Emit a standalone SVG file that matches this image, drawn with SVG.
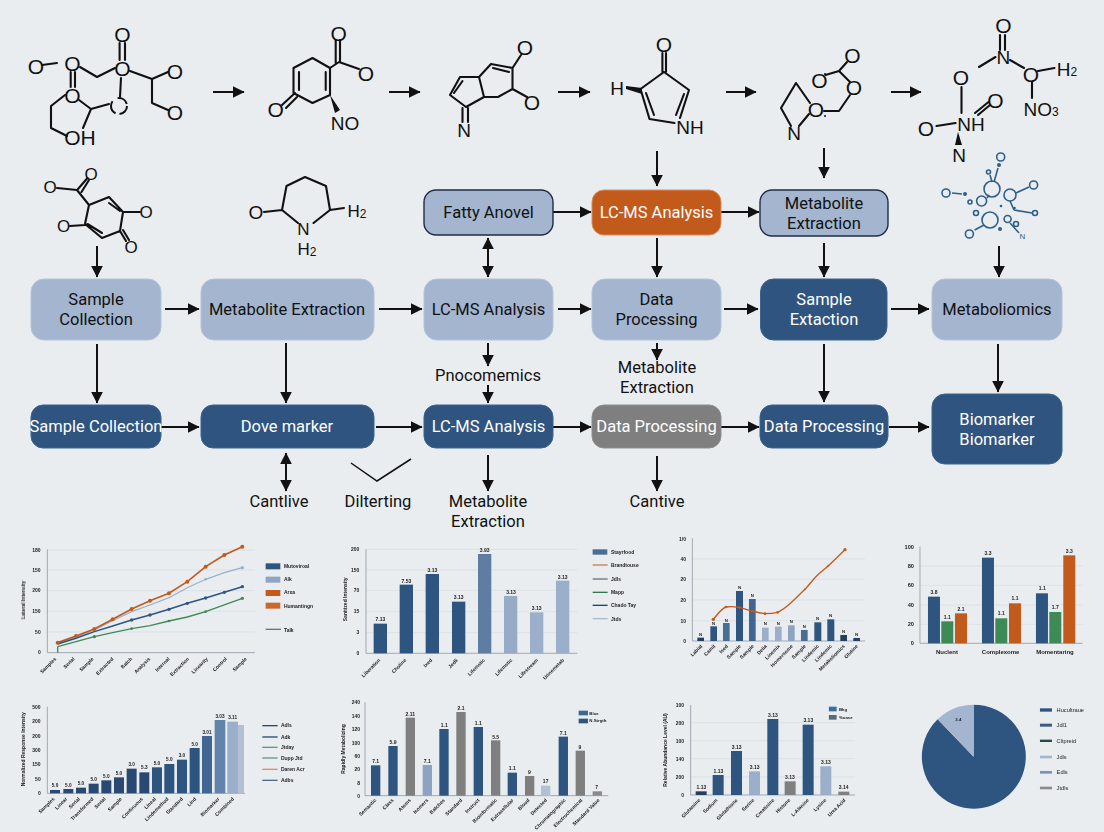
<svg xmlns="http://www.w3.org/2000/svg" width="1104" height="832" viewBox="0 0 1104 832">
<style>
.bond{fill:none;stroke:#111;stroke-width:2.1;stroke-linecap:round;stroke-linejoin:round}
.wedge{fill:#111}
.a{font-family:"Liberation Sans",Arial,sans-serif;font-size:21px;fill:#111;text-anchor:middle;dominant-baseline:central}
.a2{font-family:"Liberation Sans",Arial,sans-serif;font-size:19px;fill:#111;text-anchor:middle;dominant-baseline:central}
.s{font-size:12px}
.net{fill:none;stroke:#2f5f8a;stroke-width:1.6}
.netf{fill:#2f5f8a}
.light{fill:#a3b5cf;stroke:#b4c4da;stroke-width:1}
.dark{fill:#2f5480;stroke:#3d6390;stroke-width:1}
.orange{fill:#c25a1c;stroke:#dd8a5a;stroke-width:1}
.gray{fill:#7f7f7f;stroke:#8d8d8d;stroke-width:1}
.ol{stroke:#1f2d42;stroke-width:1.4}
.l{font-family:Roboto,"Noto Sans",sans-serif;font-size:16.5px;text-anchor:middle;fill:#111}
.w{fill:#fff}
.conn{fill:none;stroke:#111;stroke-width:2}
.plain{fill:none;stroke:#111;stroke-width:1.5}
.ax{fill:none;stroke:#8f98a3;stroke-width:2.4}
.gr{fill:none;stroke:#d5dbe0;stroke-width:2}
.t{font-family:"Liberation Sans",Arial,sans-serif;font-size:15px;fill:#222;font-weight:bold}
.e{text-anchor:end}
.m{text-anchor:middle}
.bl{fill:#2f5480}.bm{fill:#4a6e96}.bd{fill:#263e62}.bp{fill:#9cafca}.bg{fill:#7f7f7f}.bo{fill:#c25a1c}.bn{fill:#3e8a57}
</style>
<defs>
<marker id="h" viewBox="0 0 10 10" refX="9.5" refY="5" markerUnits="userSpaceOnUse" markerWidth="12" markerHeight="12" orient="auto-start-reverse"><path d="M0,0 L10,5 L0,10 z" fill="#111"/></marker>
<filter id="soft" x="-5%" y="-5%" width="110%" height="110%"><feGaussianBlur stdDeviation="1.4"/></filter>
</defs>
<rect width="1104" height="832" fill="#e9edf0"/>

<g id="mol-1">
<path class="bond" d="M42,65 L57,63 M80,67 L97,77 L115,68 M119.6,43 V60 M125,43 V60 M130,71 L152,79 L168,72 M152,79 V103 L168,110 M70.7,72 V87 M75,72 V87 M79,100 L91,109 L109,104 M121,78 L120,97 M91,109 L83,128 M65,95 L51,106 V128 L67,136"/>
<circle cx="119" cy="106" r="8" fill="none" stroke="#111" stroke-width="2" stroke-dasharray="12 4 14 6"/>
<text class="a" x="36" y="66">O</text><text class="a" x="72.5" y="63">O</text><text class="a" x="122.5" y="34">O</text><text class="a" x="122.5" y="68">O</text><text class="a" x="175" y="71">O</text><text class="a" x="175" y="112">O</text><text class="a" x="72.5" y="95">O</text><text class="a" x="80" y="137">OH</text>
</g>
<g id="mol-2">
<path class="bond" d="M312.5,58 L330,68 V95 L312.5,103 L293.5,93 V68 Z M299,72 V90 M325.7,72 V90 M330,68 L339,62 L359,69 M335.7,40 V63 M340,40 V62 M282,105 L295,93 M286,108 L297,97"/>
<path class="wedge" d="M330,95 L335,113 L340,110 Z"/>
<text class="a" x="338.6" y="33">O</text><text class="a" x="366" y="73">O</text><text class="a" x="275.7" y="109">O</text><text class="a2" x="345" y="123">NO</text>
</g>
<g id="mol-3">
<path class="bond" d="M450,95 L460,77 H479 L484,97 L466,107 Z M454,93 L462.5,81 M479,77 L491,64 L512.5,68 V89 L498,97 L484,97 M493,68 L509,72 M512.5,68 L521,55 M512.5,89 L527,97 M462.5,108 V122 M468,108 V122"/>
<text class="a" x="525" y="47">O</text><text class="a" x="532" y="102">O</text><text class="a2" x="464" y="130">N</text>
</g>
<g id="mol-4">
<path class="bond" d="M662.4,53 V72 M666,53 V72 M664,72 L689,90 L680,118 M664,72 L640.5,89 L649.5,119 L674.5,123 M646,93 L654,115 M684,94 L676,115"/>
<path class="wedge" d="M642,94 L642,88 L626,86 L626,89 Z"/>
<text class="a" x="664" y="44">O</text><text class="a2" x="617" y="88">H</text><text class="a2" x="690" y="127">NH</text>
</g>
<g id="mol-5">
<path class="bond" d="M825.5,75 L839,71 L847,62 M839,71 L850,82 M850,95 L839,111 H824 M796,83 L781,108 L791,126 M796,83 L810,103 M809,114 L799,126"/>
<circle cx="825" cy="74" r="1" fill="#111"/><circle cx="825" cy="116" r="1" fill="#111"/>
<text class="a" x="852.5" y="55">O</text><text class="a" x="819.5" y="80">O</text><text class="a" x="854" y="87">O</text><text class="a" x="816" y="109">O</text><text class="a2" x="794" y="133">N</text>
</g>
<g id="mol-6">
<path class="bond" d="M1000,35 V50 M1005,35 V50 M979,67 L995.5,57 M1010,60 L1024,68 M1038,71 L1054.5,68 M1032,82 V98 M961.5,87 V113 M936.5,126 L955.6,123 M975,113 L988.5,102 M978,115 L990,105"/>
<path class="wedge" d="M958,132 L955,145 H962 Z"/>
<text class="a" x="1003.4" y="25">O</text><text class="a2" x="1003.4" y="57">N</text><text class="a" x="1031" y="74">O</text><text class="a2" x="1067" y="69">H<tspan class="s" dy="3">2</tspan></text><text class="a2" x="1041" y="109">NO<tspan class="s" dy="3">3</tspan></text><text class="a" x="961" y="77">O</text><text class="a2" x="971" y="124">NH</text><text class="a" x="926" y="128">O</text><text class="a" x="995.5" y="100">O</text><text class="a2" x="959" y="155">N</text>
</g>
<g id="mol-7">
<path class="bond" d="M57,188 L77,190 L89,205 L109,197 L123,212 L120,231 L102,238 L85,224 L89,205 M78,189 L87.5,178 M81.5,192 L89,180 M109,203 L120,211 M87.5,224 L102,233 M123,212 H140 M70,226 L85,225 M120,231 L126,241 M123,230 L129,240"/>
<text class="a" x="91" y="174" style="font-size:17px">O</text><text class="a" x="50" y="187" style="font-size:17px">O</text><text class="a" x="146" y="212" style="font-size:17px">O</text><text class="a" x="63.5" y="226" style="font-size:17px">O</text><text class="a" x="131" y="247" style="font-size:17px">O</text>
</g>
<g id="mol-8">
<path class="bond" d="M264,212 L282,210 L286.5,186 L305,177 L326,186 L330,210 L344,208 M282,210 L298,223 M330,210 L313.5,223"/>
<text class="a" x="256" y="212" style="font-size:19px">O</text><text class="a2" x="303.5" y="229" style="font-size:17px">N</text><text class="a2" x="307" y="249" style="font-size:17px">H<tspan class="s" dy="3">2</tspan></text><text class="a2" x="357" y="211" style="font-size:17px">H<tspan class="s" dy="3">2</tspan></text>
</g>
<g id="network">
<path class="net" d="M994,182 L998,168 M990,175 L992,182 M1016,193 L1029,187 M952,193 L962,194 M1014,210 L1032,213 M974.6,230 L984,225 M1010,223 L1019,233 M987,198 L989,195 M1010,201 L1014,210"/>
<circle class="net" cx="992" cy="189" r="8"/><circle class="net" cx="1010" cy="195" r="6"/><circle class="net" cx="990" cy="220" r="8"/><circle class="net" cx="981.6" cy="201" r="5"/><circle class="net" cx="1007.6" cy="219" r="3.5"/><circle class="net" cx="1000.7" cy="157" r="4"/><circle class="netf" cx="999" cy="165" r="2"/><circle class="net" cx="988.5" cy="172" r="2"/><circle class="net" cx="1033.6" cy="185" r="4"/><circle class="net" cx="946" cy="193" r="4"/><circle class="netf" cx="965" cy="194" r="2"/><circle class="net" cx="970" cy="202" r="2"/><circle class="net" cx="1035" cy="213" r="2.5"/><circle class="net" cx="969.4" cy="234" r="4"/><circle class="net" cx="1016" cy="224" r="2.5"/><circle class="netf" cx="1000" cy="229" r="2"/><circle class="net" cx="976" cy="213" r="2.5"/><circle class="netf" cx="1001" cy="206" r="1.3"/><circle class="netf" cx="1014.5" cy="208" r="1.3"/>
<text x="1022.5" y="239" font-family="Liberation Sans, sans-serif" font-size="8" fill="#2f5f8a" text-anchor="middle">N</text>
</g>

<g id="connectors">
<g class="conn">
<path marker-end="url(#h)" d="M213,92 H244"/><path marker-end="url(#h)" d="M389,92 H420"/><path marker-end="url(#h)" d="M558,92 H590"/><path marker-end="url(#h)" d="M726,92 H756"/><path marker-end="url(#h)" d="M891,92 H921"/>
<path marker-end="url(#h)" d="M657,151 V186"/><path marker-end="url(#h)" d="M824,148 V178"/>
<path marker-end="url(#h)" d="M553,212 H591"/><path marker-end="url(#h)" d="M721,212 H759"/>
<path marker-end="url(#h)" d="M97,246 V277"/><path marker-start="url(#h)" marker-end="url(#h)" d="M488,238 V277"/><path marker-end="url(#h)" d="M657,238 V277"/><path marker-end="url(#h)" d="M824,243 V277"/><path marker-end="url(#h)" d="M999,246 V277"/>
<path marker-end="url(#h)" d="M165,309 H199"/><path marker-end="url(#h)" d="M379,309 H422"/><path marker-end="url(#h)" d="M558,309 H591"/><path marker-end="url(#h)" d="M724,309 H758"/><path marker-end="url(#h)" d="M891,309 H929"/>
<path marker-end="url(#h)" d="M97,344 V403"/><path marker-end="url(#h)" d="M286,343 V403"/><path marker-end="url(#h)" d="M488,343 V366"/><path marker-end="url(#h)" d="M488,385 V403"/><path marker-end="url(#h)" d="M657,343 V360"/><path marker-end="url(#h)" d="M824,344 V402"/><path marker-end="url(#h)" d="M998,344 V392"/>
<path marker-end="url(#h)" d="M161,427 H199"/><path marker-end="url(#h)" d="M376,427 H422"/><path marker-end="url(#h)" d="M553,427 H591"/><path marker-end="url(#h)" d="M721,427 H759"/><path marker-end="url(#h)" d="M889,427 H929"/>
<path marker-start="url(#h)" marker-end="url(#h)" d="M286,453 V491"/><path marker-end="url(#h)" d="M488,455 V491"/><path marker-end="url(#h)" d="M657,456 V491"/>
</g>
<path class="plain" d="M351,463 L377,481 L411,459"/>
</g>

<g id="node-fatty"><rect class="light ol" x="424" y="190" width="129" height="45" rx="12"/><text class="l" x="488.5" y="218">Fatty Anovel</text></g>
<g id="node-lcms-orange"><rect class="orange" x="592" y="190" width="129" height="45" rx="12"/><text class="l w" x="656.5" y="218">LC-MS Analysis</text></g>
<g id="node-extract-top"><rect class="light ol" x="760" y="190" width="128" height="46" rx="12"/><text class="l" x="824" y="209">Metabolite</text><text class="l" x="824" y="228.5">Extraction</text></g>

<g id="node-sample-1"><rect class="light" x="31" y="279" width="130" height="61" rx="13"/><text class="l" x="96" y="305">Sample</text><text class="l" x="96" y="324.5">Collection</text></g>
<g id="node-extract-1"><rect class="light" x="201" y="279" width="173" height="61" rx="13"/><text class="l" x="287" y="315">Metabolite Extraction</text></g>
<g id="node-lcms-1"><rect class="light" x="424" y="279" width="129" height="61" rx="13"/><text class="l" x="488.5" y="315">LC-MS Analysis</text></g>
<g id="node-data-1"><rect class="light" x="592" y="279" width="129" height="61" rx="13"/><text class="l" x="656.5" y="305">Data</text><text class="l" x="656.5" y="324.5">Processing</text></g>
<g id="node-sample-extract"><rect class="dark" x="760.5" y="279" width="126.5" height="61" rx="13"/><text class="l w" x="824" y="305">Sample</text><text class="l w" x="824" y="324.5">Extaction</text></g>
<g id="node-metabolomics"><rect class="light" x="932" y="279" width="130" height="61" rx="13"/><text class="l" x="997" y="315">Metaboliomics</text></g>

<g id="node-sample-2"><rect class="dark" x="31" y="405" width="130" height="43" rx="12"/><text class="l w" x="96" y="432">Sample Collection</text></g>
<g id="node-dove"><rect class="dark" x="201" y="405" width="173" height="43" rx="12"/><text class="l w" x="287" y="432">Dove marker</text></g>
<g id="node-lcms-2"><rect class="dark" x="424" y="405" width="129" height="43" rx="12"/><text class="l w" x="488.5" y="432">LC-MS Analysis</text></g>
<g id="node-data-2"><rect class="gray" x="592" y="405" width="129" height="43" rx="12"/><text class="l w" x="656.5" y="432">Data Processing</text></g>
<g id="node-data-3"><rect class="dark" x="760" y="405" width="128" height="43" rx="12"/><text class="l w" x="824" y="432">Data Processing</text></g>
<g id="node-biomarker"><rect class="dark" x="932" y="394" width="130" height="70" rx="13"/><text class="l w" x="997" y="425">Biomarker</text><text class="l w" x="997" y="445">Biomarker</text></g>

<g id="labels">
<text class="l" x="488" y="381">Pnocomemics</text>
<text class="l" x="657" y="373">Metabolite</text><text class="l" x="657" y="392.5">Extraction</text>
<text class="l" x="279" y="507">Cantlive</text><text class="l" x="378" y="507">Dilterting</text>
<text class="l" x="488" y="507">Metabolite</text><text class="l" x="488" y="526.5">Extraction</text>
<text class="l" x="657" y="507">Cantive</text>
</g>

<g id="chart-1" transform="translate(0 530) scale(.3333)" filter="url(#soft)">
<path class="gr" d="M142,60 H765 M142,120 H765 M142,182 H765 M142,244 H765 M142,306 H765"/>
<path class="ax" d="M142,58 V368 H765"/>
<g class="t e"><text x="122" y="65">180</text><text x="122" y="125">150</text><text x="122" y="187">200</text><text x="122" y="249">150</text><text x="122" y="311">50</text><text x="122" y="372">0</text></g>
<polyline fill="none" stroke="#9cafca" stroke-width="3.5" points="173,340 228,322 283,300 338,272 395,245 450,225 507,203 562,173 617,148 673,128 727,113"/>
<polyline fill="none" stroke="#c25a1c" stroke-width="5" points="173,338 228,318 283,297 338,268 395,237 450,212 507,190 562,155 617,110 673,75 727,50"/>
<polyline fill="none" stroke="#2f5480" stroke-width="4.5" points="173,342 228,325 283,305 338,288 395,270 450,255 507,238 562,220 617,204 673,187 727,170"/>
<polyline fill="none" stroke="#3e8a57" stroke-width="4" points="173,350 228,335 283,320 338,308 395,296 450,287 507,273 562,261 617,245 673,225 727,205"/>
<path fill="none" stroke="#3e8a57" stroke-width="4" d="M173,350 V368"/>
<g fill="#c25a1c"><circle cx="173" cy="338" r="6"/><circle cx="228" cy="318" r="6"/><circle cx="283" cy="297" r="6"/><circle cx="338" cy="268" r="6"/><circle cx="395" cy="237" r="6"/><circle cx="450" cy="212" r="6"/><circle cx="507" cy="190" r="6"/><circle cx="562" cy="155" r="6"/><circle cx="617" cy="110" r="6"/><circle cx="673" cy="75" r="6"/><circle cx="727" cy="50" r="6"/></g>
<g fill="#9cafca"><circle cx="727" cy="113" r="5"/><circle cx="617" cy="148" r="4"/></g>
<g fill="#2f5480"><circle cx="395" cy="270" r="5"/><circle cx="450" cy="255" r="5"/><circle cx="507" cy="238" r="5"/><circle cx="562" cy="220" r="5"/><circle cx="617" cy="204" r="5"/><circle cx="673" cy="187" r="5"/><circle cx="727" cy="170" r="5"/></g>
<g fill="#3e8a57"><circle cx="283" cy="320" r="5"/><circle cx="395" cy="296" r="4"/><circle cx="507" cy="273" r="4"/><circle cx="617" cy="245" r="4"/><circle cx="727" cy="205" r="5"/></g>
<g class="t e">
<text transform="translate(170 388) rotate(-45)">Samples</text><text transform="translate(225 388) rotate(-45)">Serial</text><text transform="translate(282 388) rotate(-45)">Sample</text><text transform="translate(342 388) rotate(-45)">Extracted</text><text transform="translate(398 388) rotate(-45)">Batch</text><text transform="translate(452 388) rotate(-45)">Analysis</text><text transform="translate(510 388) rotate(-45)">Internal</text><text transform="translate(568 388) rotate(-45)">Extraction</text><text transform="translate(625 388) rotate(-45)">Linearity</text><text transform="translate(682 388) rotate(-45)">Control</text><text transform="translate(742 388) rotate(-45)">Sample</text>
</g>
<text class="t m" transform="translate(76 210) rotate(-90)">Lateral Intensity</text>
<rect x="797" y="100" width="44" height="18" fill="#2f5480"/><rect x="797" y="140" width="44" height="18" fill="#8ea4c2"/><rect x="797" y="180" width="44" height="18" fill="#c25a1c"/><rect x="797" y="218" width="44" height="18" fill="#c9682c"/><path d="M797,298 H843" stroke="#6b7480" stroke-width="4"/>
<g class="t"><text x="852" y="115">Mutoviroal</text><text x="852" y="153">Alk</text><text x="852" y="193">Arxa</text><text x="852" y="233">Humantingn</text><text x="852" y="305">Talk</text></g>
</g>

<g id="chart-2" transform="translate(330 530) scale(.3333)" filter="url(#soft)">
<path class="gr" d="M108,58 H742 M108,120 H742 M108,181 H742 M108,245 H742 M108,308 H742"/>
<path class="ax" d="M108,58 V370 H742"/>
<g class="t e"><text x="88" y="64">200</text><text x="88" y="125">150</text><text x="88" y="186">70</text><text x="88" y="250">15</text><text x="88" y="313">3</text><text x="88" y="375">0</text></g>
<rect class="bl" x="131" y="281" width="40" height="89"/><rect class="bl" x="209" y="164" width="40" height="206"/><rect class="bl" x="287" y="132" width="40" height="238"/><rect class="bl" x="366" y="215" width="40" height="155"/><rect fill="#5f7da3" x="444" y="72" width="40" height="298"/><rect fill="#97aac6" x="522" y="198" width="40" height="172"/><rect class="bp" x="600" y="247" width="40" height="123"/><rect class="bp" x="678" y="152" width="40" height="218"/>
<g class="t m"><text x="151" y="274">7.13</text><text x="229" y="158">7.53</text><text x="307" y="127">3.13</text><text x="386" y="208">3.13</text><text x="464" y="65">3.93</text><text x="543" y="192">3.13</text><text x="620" y="240">3.13</text><text x="698" y="146">3.13</text></g>
<g class="t e"><text transform="translate(152 392) rotate(-45)">Liberation</text><text transform="translate(230 392) rotate(-45)">Choline</text><text transform="translate(308 392) rotate(-45)">Ixed</text><text transform="translate(385 392) rotate(-45)">Jedli</text><text transform="translate(466 392) rotate(-45)">Lifemstic</text><text transform="translate(548 392) rotate(-45)">Lifemstic</text><text transform="translate(625 392) rotate(-45)">Lifestream</text><text transform="translate(703 392) rotate(-45)">Urinemetab</text></g>
<text class="t m" transform="translate(50 208) rotate(-90)">Sanitized Intensity</text>
<rect x="788" y="58" width="44" height="16" fill="#4a6e96"/>
<path d="M788,105 H833" stroke="#c97f4f" stroke-width="4"/><path d="M788,147 H833" stroke="#6b7480" stroke-width="4"/><path d="M788,187 H833" stroke="#2f7a4b" stroke-width="4"/><path d="M788,226 H833" stroke="#24436b" stroke-width="4"/><path d="M788,266 H833" stroke="#a9b8cc" stroke-width="4"/>
<g class="t"><text x="843" y="72">Stayrfood</text><text x="843" y="112">Brandtouse</text><text x="843" y="153">Jdls</text><text x="843" y="193">Mapp</text><text x="843" y="232">Chado Tay</text><text x="843" y="272">Jtds</text></g>
</g>

<g id="chart-3" transform="translate(660 530) scale(.3333)" filter="url(#soft)">
<path class="gr" d="M97,87 H615 M97,148 H615 M97,210 H615 M97,272 H615"/>
<path class="ax" d="M97,25 V333 H615"/>
<g class="t e"><text x="78" y="32">1/0</text><text x="78" y="93">40</text><text x="78" y="154">20</text><text x="78" y="216">20</text><text x="78" y="278">10</text><text x="78" y="339">0</text></g>
<rect class="bd" x="112" y="323" width="20" height="10"/><rect class="bl" x="151" y="289" width="20" height="44"/><rect class="bm" x="189" y="279" width="20" height="54"/><rect class="bl" x="228" y="183" width="21" height="150"/><rect fill="#3f6590" x="267" y="207" width="20" height="126"/><rect class="bp" x="306" y="293" width="20" height="40"/><rect class="bp" x="345" y="290" width="20" height="43"/><rect fill="#8ea3c2" x="384" y="286" width="20" height="47"/><rect class="bm" x="423" y="300" width="20" height="33"/><rect class="bl" x="463" y="277" width="21" height="56"/><rect class="bl" x="502" y="268" width="21" height="65"/><rect class="bd" x="541" y="315" width="20" height="18"/><rect class="bd" x="580" y="324" width="20" height="9"/>
<path fill="none" stroke="#c25a1c" stroke-width="4" d="M160,268 C175,250 185,235 198,231 C212,228 225,230 238,232 C252,235 262,240 277,243 C290,247 302,250 315,251 C330,251 342,250 353,247 C368,240 380,230 392,219 C407,205 420,192 435,178 C447,165 458,150 470,138 C482,126 494,118 505,107 C522,92 538,75 555,59"/>
<g fill="#c25a1c"><circle cx="160" cy="268" r="5"/><circle cx="198" cy="231" r="4"/><circle cx="238" cy="232" r="4"/><circle cx="277" cy="243" r="4"/><circle cx="315" cy="251" r="4"/><circle cx="353" cy="247" r="4"/><circle cx="435" cy="178" r="3"/><circle cx="505" cy="107" r="3"/><circle cx="555" cy="59" r="5"/></g>
<g class="t m" style="font-size:13px"><text x="122" y="318">N</text><text x="161" y="284">N</text><text x="199" y="275">N</text><text x="239" y="176">N</text><text x="277" y="200">N</text><text x="316" y="286">N</text><text x="355" y="284">N</text><text x="394" y="280">N</text><text x="433" y="295">N</text><text x="473" y="271">N</text><text x="512" y="262">N</text><text x="551" y="309">N</text><text x="590" y="319">N</text></g>
<g class="t e"><text transform="translate(128 350) rotate(-45)">Labial</text><text transform="translate(167 350) rotate(-45)">Camil</text><text transform="translate(205 350) rotate(-45)">Ised</text><text transform="translate(244 350) rotate(-45)">Sample</text><text transform="translate(283 350) rotate(-45)">Sample</text><text transform="translate(322 350) rotate(-45)">Delia</text><text transform="translate(361 350) rotate(-45)">Linemix</text><text transform="translate(400 350) rotate(-45)">Isomersome</text><text transform="translate(439 350) rotate(-45)">Sample</text><text transform="translate(478 350) rotate(-45)">Lindemic</text><text transform="translate(517 350) rotate(-45)">Lindemic</text><text transform="translate(556 350) rotate(-45)">Metaboliomics</text><text transform="translate(595 350) rotate(-45)">Glutine</text></g>
<path class="gr" d="M780,108 H1268 M780,166 H1268 M780,225 H1268 M780,283 H1268"/>
<path class="ax" d="M780,50 V340 H1268"/>
<g class="t e" style="font-size:17px"><text x="762" y="56">100</text><text x="762" y="114">80</text><text x="762" y="172">60</text><text x="762" y="231">40</text><text x="762" y="289">20</text><text x="762" y="346">0</text></g>
<rect class="bl" x="804" y="200" width="36" height="140"/><rect class="bn" x="844" y="274" width="36" height="66"/><rect class="bo" x="885" y="250" width="36" height="90"/><rect class="bl" x="966" y="83" width="36" height="257"/><rect class="bn" x="1006" y="265" width="36" height="75"/><rect class="bo" x="1047" y="220" width="36" height="120"/><rect class="bl" x="1128" y="190" width="36" height="150"/><rect class="bn" x="1168" y="246" width="36" height="94"/><rect class="bo" x="1210" y="76" width="36" height="264"/>
<g class="t m"><text x="822" y="192">3.8</text><text x="862" y="266">1.1</text><text x="903" y="242">2.1</text><text x="984" y="76">3.3</text><text x="1024" y="256">1.1</text><text x="1065" y="211">1.1</text><text x="1147" y="181">1.1</text><text x="1186" y="238">1.7</text><text x="1228" y="68">3.3</text></g>
<g class="t m" style="font-size:18px"><text x="861" y="372">Nuclent</text><text x="1022" y="372">Complexome</text><text x="1185" y="372">Momentaring</text></g>
</g>

<g id="chart-5" transform="translate(0 690) scale(.3333)" filter="url(#soft)">
<path class="ax" d="M142,50 V310 H735"/>
<g class="t e"><text x="122" y="56">500</text><text x="122" y="100">200</text><text x="122" y="143">200</text><text x="122" y="186">300</text><text x="122" y="228">150</text><text x="122" y="273">50</text><text x="122" y="316">0</text></g>
<g fill="#2c4a72"><rect x="150" y="300" width="30" height="10"/><rect x="190" y="297" width="30" height="13"/><rect x="228" y="293" width="30" height="17"/><rect x="266" y="281" width="30" height="29"/><rect x="304" y="271" width="30" height="39"/><rect x="342" y="262" width="30" height="48"/><rect x="380" y="236" width="30" height="74"/><rect x="418" y="247" width="30" height="63"/></g>
<g class="bl"><rect x="456" y="232" width="30" height="78"/><rect x="493" y="222" width="30" height="88"/><rect x="531" y="209" width="30" height="101"/><rect x="569" y="174" width="30" height="136"/></g>
<rect fill="#3f6590" x="606" y="138" width="30" height="172"/><rect fill="#6384aa" x="644" y="90" width="32" height="220"/><rect class="bp" x="682" y="95" width="32" height="215"/><rect fill="#b3c0d3" x="714" y="105" width="18" height="205"/>
<g class="t m" style="font-size:14px"><text x="165" y="292">5.0</text><text x="205" y="290">5.0</text><text x="243" y="285">5.0</text><text x="281" y="274">5.0</text><text x="319" y="263">5.0</text><text x="357" y="255">5.0</text><text x="395" y="228">3.0</text><text x="433" y="238">5.3</text><text x="471" y="224">5.0</text><text x="508" y="214">5.0</text><text x="546" y="201">3.0</text><text x="584" y="167">5.0</text><text x="621" y="131">3.01</text><text x="660" y="83">3.03</text><text x="698" y="87">3.11</text></g>
<g class="t e"><text transform="translate(165 328) rotate(-45)">Samples</text><text transform="translate(203 328) rotate(-45)">Linear</text><text transform="translate(241 328) rotate(-45)">Serial</text><text transform="translate(282 328) rotate(-45)">Transformed</text><text transform="translate(318 328) rotate(-45)">Serial</text><text transform="translate(367 328) rotate(-45)">Sample</text><text transform="translate(430 328) rotate(-45)">Continuous</text><text transform="translate(469 328) rotate(-45)">Lineal</text><text transform="translate(507 328) rotate(-45)">Lindemethod</text><text transform="translate(550 328) rotate(-45)">Standard</text><text transform="translate(590 328) rotate(-45)">Lind</text><text transform="translate(660 328) rotate(-45)">Biomarker</text><text transform="translate(703 328) rotate(-45)">Combined</text></g>
<text class="t m" transform="translate(76 178) rotate(-90)">Normalized Response Intensity</text>
<g stroke-width="4"><path d="M787,107 H833" stroke="#2c4a72"/><path d="M787,141 H833" stroke="#2c4a72"/><path d="M787,172 H833" stroke="#5c9a7a"/><path d="M787,204 H833" stroke="#5c9a7a"/><path d="M787,238 H833" stroke="#d9925e"/><path d="M787,271 H833" stroke="#506a85"/></g>
<g class="t"><text x="843" y="112">Adls</text><text x="843" y="146">Adk</text><text x="843" y="178">Jtday</text><text x="843" y="210">Dupp Jtd</text><text x="843" y="244">Daren Acr</text><text x="843" y="277">Adbs</text></g>
</g>

<g id="chart-6" transform="translate(330 690) scale(.3333)" filter="url(#soft)">
<path class="ax" d="M105,37 V317 H835"/>
<g class="t e"><text x="90" y="43">240</text><text x="90" y="84">140</text><text x="90" y="124">120</text><text x="90" y="164">100</text><text x="90" y="204">60</text><text x="90" y="244">20</text><text x="90" y="284">8</text><text x="90" y="323">0</text></g>
<rect class="bl" x="123" y="226" width="28" height="91"/><rect class="bl" x="175" y="168" width="28" height="149"/><rect class="bg" x="227" y="83" width="28" height="234"/><rect fill="#8ea3c2" x="278" y="225" width="28" height="92"/><rect class="bl" x="328" y="117" width="28" height="200"/><rect class="bg" x="379" y="66" width="28" height="251"/><rect class="bl" x="431" y="111" width="28" height="206"/><rect class="bg" x="483" y="151" width="28" height="166"/><rect class="bl" x="533" y="248" width="28" height="69"/><rect class="bg" x="585" y="258" width="28" height="59"/><rect fill="#b3c0d3" x="633" y="287" width="28" height="30"/><rect class="bl" x="686" y="140" width="28" height="177"/><rect class="bg" x="737" y="182" width="28" height="135"/><rect fill="#8a8a8a" x="788" y="304" width="28" height="13"/>
<g class="t m"><text x="137" y="220">7.1</text><text x="189" y="162">5.9</text><text x="241" y="78">2.11</text><text x="292" y="219">7.1</text><text x="343" y="111">1.1</text><text x="393" y="61">2.1</text><text x="445" y="105">1.1</text><text x="497" y="146">5.5</text><text x="547" y="241">1.1</text><text x="598" y="251">9</text><text x="647" y="280">17</text><text x="700" y="134">7.1</text><text x="750" y="176">9</text><text x="800" y="297">7</text></g>
<g class="t e"><text transform="translate(140 332) rotate(-45)">Semantic</text><text transform="translate(192 332) rotate(-45)">Class</text><text transform="translate(244 332) rotate(-45)">Atoms</text><text transform="translate(296 332) rotate(-45)">Isomers</text><text transform="translate(346 332) rotate(-45)">Batches</text><text transform="translate(398 332) rotate(-45)">Standard</text><text transform="translate(450 332) rotate(-45)">Instruct</text><text transform="translate(502 332) rotate(-45)">Bioinformatic</text><text transform="translate(552 332) rotate(-45)">Extracellular</text><text transform="translate(600 332) rotate(-45)">Blood</text><text transform="translate(652 332) rotate(-45)">Detected</text><text transform="translate(708 332) rotate(-45)">Chromatographic</text><text transform="translate(758 332) rotate(-45)">Electrochemical</text><text transform="translate(810 332) rotate(-45)">Standard Value</text></g>
<text class="t m" transform="translate(46 177) rotate(-90)">Rapidly Metabolizing</text>
<rect x="746" y="62" width="28" height="14" fill="#3f6590"/><rect x="746" y="86" width="28" height="14" fill="#2f5480"/>
<g class="t" style="font-size:13px"><text x="778" y="74">Blue</text><text x="778" y="97">N.Strgth</text></g>
</g>

<g id="chart-7" transform="translate(660 690) scale(.3333)" filter="url(#soft)">
<path class="gr" d="M92,98 H585 M92,152 H585 M92,206 H585 M92,261 H585"/>
<path class="ax" d="M92,45 V315 H585"/>
<g class="t e"><text x="72" y="52">100</text><text x="72" y="104">200</text><text x="72" y="158">100</text><text x="72" y="212">140</text><text x="72" y="267">200</text><text x="72" y="321">0</text></g>
<rect class="bd" x="107" y="304" width="33" height="11"/><rect class="bl" x="158" y="255" width="33" height="60"/><rect class="bl" x="213" y="183" width="33" height="132"/><rect class="bp" x="267" y="244" width="33" height="71"/><rect class="bl" x="322" y="87" width="33" height="228"/><rect class="bg" x="374" y="274" width="33" height="41"/><rect class="bl" x="428" y="104" width="33" height="211"/><rect class="bp" x="481" y="229" width="33" height="86"/><rect class="bg" x="535" y="305" width="33" height="10"/>
<g class="t m"><text x="124" y="296">1.13</text><text x="175" y="248">1.13</text><text x="230" y="176">3.13</text><text x="284" y="237">3.13</text><text x="339" y="81">3.13</text><text x="390" y="267">3.13</text><text x="445" y="96">3.13</text><text x="498" y="222">3.13</text><text x="551" y="298">3.14</text></g>
<g class="t e"><text transform="translate(122 332) rotate(-45)">Glutamine</text><text transform="translate(174 332) rotate(-45)">Sodium</text><text transform="translate(234 332) rotate(-45)">Glutathione</text><text transform="translate(284 332) rotate(-45)">Serine</text><text transform="translate(344 332) rotate(-45)">Creatinine</text><text transform="translate(392 332) rotate(-45)">Histone</text><text transform="translate(448 332) rotate(-45)">L-Alanine</text><text transform="translate(500 332) rotate(-45)">Lysine</text><text transform="translate(558 332) rotate(-45)">Urea Acid</text></g>
<text class="t m" transform="translate(20 180) rotate(-90)">Relative Abundance Level (AU)</text>
<rect x="506" y="50" width="24" height="14" fill="#3f6e9a"/><rect x="506" y="75" width="24" height="14" fill="#5a6a78"/>
<g class="t" style="font-size:13px"><text x="537" y="62">Bkg</text><text x="537" y="87">%uase</text></g>
<path fill="#2f5480" d="M941,200 L941,44 A156,156 0 1 1 833,88 Z"/>
<path fill="#a3b5cf" d="M941,200 L833,88 A156,156 0 0 1 941,44 Z"/>
<text class="t m" x="895" y="92" fill="#667" style="font-size:13px">3.4</text>
<rect x="1140" y="55" width="36" height="10" fill="#2f5480"/><rect x="1140" y="101" width="36" height="9" fill="#3b5b80"/><rect x="1140" y="149" width="36" height="7" fill="#214a48"/><rect x="1140" y="197" width="36" height="8" fill="#a3b5cf"/><rect x="1140" y="243" width="36" height="8" fill="#7d93b5"/><rect x="1140" y="290" width="36" height="8" fill="#8a8a8a"/>
<g class="t" style="font-size:17px;font-weight:normal"><text x="1190" y="66">Hucultraue</text><text x="1190" y="112">Jdl1</text><text x="1190" y="158">Cltpreid</text><text x="1190" y="206">Jdls</text><text x="1190" y="253">Edls</text><text x="1190" y="300">Jtdls</text></g>
</g>
</svg>
